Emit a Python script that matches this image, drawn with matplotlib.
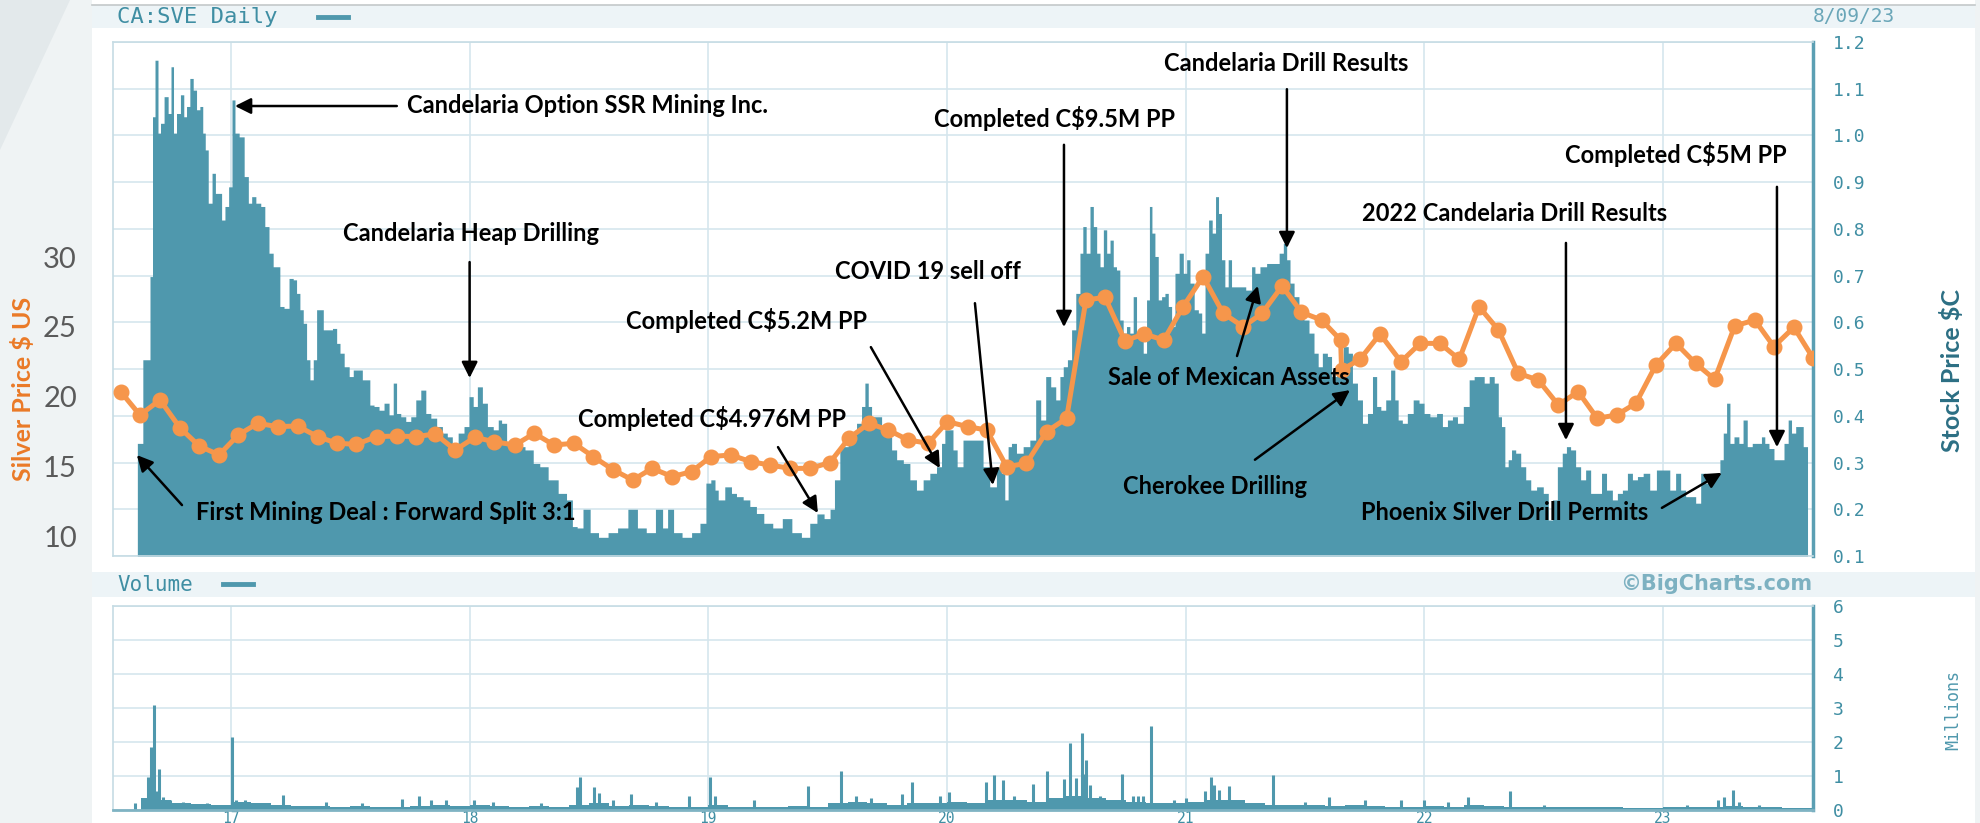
import numpy as np
import pandas as pd
import matplotlib
matplotlib.use("Agg")
import matplotlib.pyplot as plt
from matplotlib.patches import Rectangle, Polygon
from matplotlib.lines import Line2D

# ---------------- data ----------------
stock_dates = [
    2016.608, 2016.654, 2016.668, 2016.675, 2016.689, 2016.700, 2016.710, 2016.730, 2016.744, 2016.754,
    2016.765, 2016.779, 2016.798, 2016.807, 2016.821, 2016.835, 2016.849, 2016.863, 2016.877, 2016.887,
    2016.898, 2016.912, 2016.930, 2016.940, 2016.954, 2016.968, 2016.982, 2016.999, 2017.010, 2017.024,
    2017.045, 2017.066, 2017.080, 2017.094, 2017.115, 2017.135, 2017.149, 2017.170, 2017.184, 2017.198,
    2017.212, 2017.233, 2017.254, 2017.268, 2017.282, 2017.296, 2017.310, 2017.324, 2017.338, 2017.352,
    2017.366, 2017.380, 2017.394, 2017.415, 2017.436, 2017.450, 2017.464, 2017.485, 2017.506, 2017.519,
    2017.540, 2017.561, 2017.575, 2017.589, 2017.610, 2017.631, 2017.652, 2017.673, 2017.687, 2017.701,
    2017.722, 2017.743, 2017.764, 2017.785, 2017.806, 2017.827, 2017.848, 2017.876, 2017.896, 2017.917,
    2017.938, 2017.966, 2017.987, 2018.008, 2018.022, 2018.043, 2018.064, 2018.085, 2018.113, 2018.127,
    2018.141, 2018.169, 2018.211, 2018.253, 2018.280, 2018.308, 2018.350, 2018.392, 2018.420, 2018.441,
    2018.460, 2018.490, 2018.520, 2018.560, 2018.600, 2018.640, 2018.686, 2018.720, 2018.760, 2018.797,
    2018.820, 2018.839, 2018.870, 2018.910, 2018.950, 2018.980, 2019.000, 2019.021, 2019.035, 2019.048,
    2019.090, 2019.104, 2019.132, 2019.160, 2019.188, 2019.215, 2019.250, 2019.290, 2019.330, 2019.370,
    2019.410, 2019.440, 2019.470, 2019.500, 2019.520, 2019.537, 2019.565, 2019.607, 2019.635, 2019.649,
    2019.663, 2019.677, 2019.691, 2019.719, 2019.733, 2019.761, 2019.775, 2019.803, 2019.831, 2019.858,
    2019.886, 2019.914, 2019.942, 2019.970, 2019.984, 2019.998, 2020.018, 2020.032, 2020.053, 2020.081,
    2020.109, 2020.137, 2020.165, 2020.193, 2020.221, 2020.235, 2020.249, 2020.263, 2020.277, 2020.305,
    2020.333, 2020.361, 2020.382, 2020.403, 2020.424, 2020.445, 2020.466, 2020.480, 2020.494, 2020.515,
    2020.529, 2020.550, 2020.564, 2020.574, 2020.592, 2020.606, 2020.620, 2020.634, 2020.648, 2020.662,
    2020.676, 2020.690, 2020.703, 2020.717, 2020.731, 2020.745, 2020.759, 2020.773, 2020.787, 2020.801,
    2020.815, 2020.829, 2020.843, 2020.853, 2020.864, 2020.878, 2020.892, 2020.906, 2020.920, 2020.934,
    2020.948, 2020.962, 2020.983, 2020.997, 2021.011, 2021.025, 2021.046, 2021.060, 2021.074, 2021.088,
    2021.104, 2021.118, 2021.132, 2021.143, 2021.157, 2021.171, 2021.185, 2021.199, 2021.234, 2021.269,
    2021.283, 2021.297, 2021.325, 2021.353, 2021.381, 2021.402, 2021.416, 2021.430, 2021.444, 2021.464,
    2021.485, 2021.506, 2021.527, 2021.548, 2021.562, 2021.583, 2021.604, 2021.618, 2021.646, 2021.674,
    2021.688, 2021.709, 2021.730, 2021.751, 2021.772, 2021.793, 2021.807, 2021.828, 2021.848, 2021.869,
    2021.883, 2021.897, 2021.918, 2021.939, 2021.967, 2021.988, 2022.009, 2022.037, 2022.065, 2022.086,
    2022.107, 2022.128, 2022.149, 2022.177, 2022.198, 2022.219, 2022.240, 2022.261, 2022.282, 2022.303,
    2022.316, 2022.330, 2022.344, 2022.358, 2022.372, 2022.393, 2022.414, 2022.435, 2022.456, 2022.484,
    2022.512, 2022.526, 2022.547, 2022.567, 2022.588, 2022.602, 2022.623, 2022.644, 2022.665, 2022.686,
    2022.707, 2022.735, 2022.749, 2022.777, 2022.798, 2022.819, 2022.840, 2022.861, 2022.882, 2022.903,
    2022.930, 2022.958, 2022.986, 2023.014, 2023.042, 2023.063, 2023.084, 2023.105, 2023.126, 2023.147,
    2023.168, 2023.189, 2023.210, 2023.231, 2023.245, 2023.259, 2023.273, 2023.287, 2023.307, 2023.328,
    2023.342, 2023.363, 2023.384, 2023.405, 2023.419, 2023.433, 2023.454, 2023.475, 2023.496, 2023.517,
    2023.531, 2023.545, 2023.566, 2023.580, 2023.594, 2023.605,
]
stock_price = [
    0.341, 0.520, 0.698, 1.040, 1.161, 1.005, 1.026, 1.083, 1.047, 1.147,
    1.005, 1.047, 1.087, 1.040, 1.062, 1.122, 1.097, 1.055, 1.062, 1.005,
    0.969, 0.855, 0.919, 0.876, 0.876, 0.819, 0.848, 0.890, 1.076, 1.005,
    0.997, 0.912, 0.855, 0.869, 0.855, 0.848, 0.805, 0.748, 0.719, 0.719,
    0.634, 0.630, 0.694, 0.691, 0.662, 0.627, 0.598, 0.520, 0.477, 0.520,
    0.627, 0.627, 0.584, 0.584, 0.587, 0.555, 0.534, 0.505, 0.484, 0.498,
    0.498, 0.477, 0.477, 0.423, 0.420, 0.412, 0.427, 0.402, 0.470, 0.405,
    0.398, 0.388, 0.398, 0.434, 0.455, 0.405, 0.395, 0.377, 0.363, 0.355,
    0.341, 0.363, 0.377, 0.441, 0.420, 0.462, 0.427, 0.377, 0.370, 0.391,
    0.384, 0.341, 0.334, 0.327, 0.298, 0.291, 0.263, 0.234, 0.220, 0.163,
    0.160, 0.200, 0.150, 0.140, 0.150, 0.160, 0.200, 0.160, 0.150, 0.200,
    0.160, 0.200, 0.150, 0.140, 0.150, 0.170, 0.256, 0.263, 0.241, 0.220,
    0.248, 0.234, 0.227, 0.220, 0.206, 0.191, 0.170, 0.160, 0.180, 0.150,
    0.140, 0.170, 0.190, 0.180, 0.200, 0.263, 0.334, 0.363, 0.384, 0.420,
    0.470, 0.420, 0.398, 0.398, 0.377, 0.355, 0.327, 0.306, 0.298, 0.263,
    0.241, 0.263, 0.277, 0.291, 0.341, 0.370, 0.370, 0.327, 0.291, 0.348,
    0.348, 0.348, 0.291, 0.248, 0.291, 0.277, 0.220, 0.334, 0.341, 0.320,
    0.334, 0.348, 0.434, 0.391, 0.484, 0.462, 0.434, 0.484, 0.505, 0.520,
    0.584, 0.662, 0.748, 0.805, 0.748, 0.848, 0.805, 0.748, 0.719, 0.798,
    0.748, 0.776, 0.719, 0.712, 0.605, 0.577, 0.591, 0.577, 0.655, 0.577,
    0.577, 0.534, 0.648, 0.848, 0.791, 0.741, 0.648, 0.655, 0.662, 0.634,
    0.591, 0.705, 0.748, 0.705, 0.734, 0.684, 0.627, 0.620, 0.577, 0.748,
    0.819, 0.791, 0.869, 0.833, 0.734, 0.676, 0.734, 0.676, 0.676, 0.669,
    0.719, 0.705, 0.719, 0.726, 0.726, 0.748, 0.769, 0.734, 0.684, 0.655,
    0.620, 0.605, 0.577, 0.534, 0.505, 0.534, 0.527, 0.484, 0.505, 0.548,
    0.534, 0.470, 0.434, 0.384, 0.405, 0.484, 0.420, 0.412, 0.434, 0.498,
    0.434, 0.391, 0.384, 0.405, 0.434, 0.427, 0.405, 0.398, 0.405, 0.377,
    0.391, 0.398, 0.384, 0.420, 0.477, 0.484, 0.484, 0.470, 0.484, 0.470,
    0.398, 0.377, 0.291, 0.306, 0.327, 0.320, 0.291, 0.263, 0.241, 0.248,
    0.234, 0.177, 0.220, 0.291, 0.320, 0.334, 0.327, 0.291, 0.263, 0.284,
    0.234, 0.234, 0.277, 0.241, 0.220, 0.234, 0.241, 0.277, 0.263, 0.270,
    0.277, 0.241, 0.284, 0.284, 0.241, 0.277, 0.241, 0.227, 0.227, 0.213,
    0.277, 0.256, 0.270, 0.277, 0.306, 0.363, 0.427, 0.341, 0.355, 0.341,
    0.391, 0.334, 0.341, 0.341, 0.355, 0.341, 0.330, 0.306, 0.306, 0.341,
    0.391, 0.363, 0.377, 0.377, 0.334, 0.334,
]

silver_dates = [
    2016.538, 2016.619, 2016.703, 2016.786, 2016.867, 2016.950, 2017.031, 2017.112, 2017.196, 2017.279,
    2017.363, 2017.445, 2017.526, 2017.610, 2017.694, 2017.775, 2017.856, 2017.940, 2018.022, 2018.103,
    2018.190, 2018.271, 2018.353, 2018.437, 2018.518, 2018.602, 2018.683, 2018.765, 2018.849, 2018.930,
    2019.011, 2019.095, 2019.177, 2019.258, 2019.342, 2019.426, 2019.509, 2019.589, 2019.673, 2019.754,
    2019.837, 2019.921, 2020.002, 2020.086, 2020.166, 2020.250, 2020.333, 2020.417, 2020.501, 2020.582,
    2020.662, 2020.745, 2020.826, 2020.908, 2020.989, 2021.073, 2021.157, 2021.241, 2021.320, 2021.404,
    2021.485, 2021.569, 2021.649, 2021.653, 2021.730, 2021.814, 2021.902, 2021.982, 2022.065, 2022.146,
    2022.229, 2022.310, 2022.393, 2022.477, 2022.561, 2022.644, 2022.724, 2022.805, 2022.886, 2022.970,
    2023.054, 2023.136, 2023.216, 2023.300, 2023.384, 2023.464, 2023.548, 2023.629,
]
silver_price = [
    20.38, 18.71, 19.79, 17.81, 16.50, 15.86, 17.29, 18.12, 17.88, 17.93,
    17.17, 16.69, 16.62, 17.17, 17.21, 17.17, 17.36, 16.21, 17.12, 16.80,
    16.57, 17.40, 16.57, 16.69, 15.74, 14.79, 14.07, 14.90, 14.31, 14.67,
    15.74, 15.86, 15.38, 15.14, 14.90, 14.90, 15.31, 17.05, 18.12, 17.64,
    16.93, 16.69, 18.24, 17.88, 17.64, 15.02, 15.26, 17.52, 18.48, 26.93,
    27.12, 24.02, 24.50, 24.07, 26.45, 28.60, 25.98, 25.02, 25.98, 27.93,
    26.05, 25.50, 24.07, 21.93, 22.69, 24.50, 22.52, 23.83, 23.83, 22.69,
    26.45, 24.79, 21.69, 21.21, 19.43, 20.38, 18.48, 18.71, 19.55, 22.29,
    23.83, 22.40, 21.26, 25.07, 25.50, 23.60, 24.98, 22.76,
]

# monthly base volume (millions), Aug 2016 .. Aug 2023
vol_months = pd.period_range("2016-08", "2023-08", freq="M")
vol_base = [
    0.35, 0.30, 0.20, 0.18, 0.15,
    0.25, 0.20, 0.15, 0.12, 0.12, 0.10, 0.12, 0.10, 0.10, 0.12, 0.15, 0.12,
    0.15, 0.12, 0.10, 0.12, 0.10, 0.15, 0.20, 0.12, 0.15, 0.12, 0.10, 0.10,
    0.15, 0.10, 0.08, 0.10, 0.12, 0.10, 0.20, 0.25, 0.20, 0.15, 0.20, 0.20,
    0.25, 0.20, 0.30, 0.30, 0.25, 0.35, 0.40, 0.35, 0.30, 0.25, 0.20, 0.20,
    0.25, 0.30, 0.30, 0.20, 0.15, 0.15, 0.15, 0.12, 0.15, 0.12, 0.10, 0.10,
    0.12, 0.10, 0.15, 0.12, 0.10, 0.10, 0.08, 0.08, 0.08, 0.08, 0.06, 0.06,
    0.08, 0.08, 0.10, 0.12, 0.10, 0.08, 0.06, 0.05,
]
spike_dates = [
    2016.598, 2016.652, 2016.664, 2016.676, 2016.688, 2016.700, 2016.715, 2016.745, 2016.800, 2016.900,
    2017.004, 2017.020, 2017.060, 2017.220, 2017.400, 2017.550, 2017.716, 2017.790, 2017.840, 2017.900,
    2018.020, 2018.100, 2018.300, 2018.450, 2018.464, 2018.520, 2018.540, 2018.600, 2018.675, 2018.780,
    2018.920, 2019.006, 2019.030, 2019.190, 2019.419, 2019.554, 2019.620, 2019.680, 2019.810, 2019.853,
    2019.970, 2020.010, 2020.162, 2020.196, 2020.236, 2020.280, 2020.360, 2020.417, 2020.490, 2020.517,
    2020.540, 2020.564, 2020.572, 2020.583, 2020.600, 2020.640, 2020.732, 2020.780, 2020.800, 2020.820,
    2020.854, 2020.950, 2021.000, 2021.080, 2021.106, 2021.120, 2021.140, 2021.180, 2021.230, 2021.364,
    2021.500, 2021.600, 2021.750, 2021.900, 2022.000, 2022.100, 2022.184, 2022.358, 2022.500, 2023.100,
    2023.230, 2023.255, 2023.294, 2023.320, 2023.400,
]
spike_vol = [
    0.20, 0.96, 1.85, 3.08, 0.57, 1.21, 0.39, 0.30, 0.25, 0.20,
    2.14, 0.30, 0.30, 0.44, 0.25, 0.22, 0.32, 0.42, 0.30, 0.30,
    0.30, 0.25, 0.22, 0.67, 0.96, 0.67, 0.50, 0.30, 0.47, 0.25,
    0.42, 0.96, 0.42, 0.28, 0.72, 1.16, 0.42, 0.35, 0.47, 0.82,
    0.42, 0.52, 0.82, 1.04, 0.87, 0.40, 0.77, 1.16, 0.91, 1.97,
    0.95, 2.26, 1.06, 1.47, 0.75, 0.42, 1.06, 0.40, 0.40, 0.40,
    2.46, 0.30, 0.35, 0.55, 0.98, 0.75, 0.60, 0.72, 0.30, 1.04,
    0.25, 0.37, 0.30, 0.28, 0.30, 0.25, 0.37, 0.57, 0.15, 0.15,
    0.30, 0.37, 0.59, 0.25, 0.15,
]

year_ticks = [2017, 2018, 2019, 2020, 2021, 2022, 2023]
year_labels = ["17", "18", "19", "20", "21", "22", "23"]
stock_ticks = [0.1, 0.2, 0.3, 0.4, 0.5, 0.6, 0.7, 0.8, 0.9, 1.0, 1.1, 1.2]
silver_ticks = [10, 15, 20, 25, 30]
vol_ticks = [0, 1, 2, 3, 4, 5, 6]

ann_labels = [
    "Candelaria Option SSR Mining Inc.", "Candelaria Heap Drilling",
    "First Mining Deal : Forward Split 3:1", "Completed C$4.976M PP",
    "Completed C$5.2M PP", "COVID 19 sell off", "Completed C$9.5M PP",
    "Candelaria Drill Results", "Sale of Mexican Assets", "Cherokee Drilling",
    "2022 Candelaria Drill Results", "Completed C$5M PP", "Phoenix Silver Drill Permits",
]
ann_text_xy = [
    (2018.494, 1.065), (2018.005, 0.791), (2017.647, 0.194), (2019.015, 0.395),
    (2019.162, 0.605), (2019.920, 0.708), (2020.452, 1.037), (2021.420, 1.155),
    (2021.181, 0.483), (2021.122, 0.248), (2022.379, 0.834), (2023.054, 0.960),
    (2022.337, 0.194),
]
ann_tail = [
    (2017.695, 1.063), (2018.000, 0.729), (2016.795, 0.209), (2019.292, 0.333),
    (2019.681, 0.547), (2020.117, 0.641), (2020.490, 0.980), (2021.424, 1.099),
    (2021.215, 0.528), (2021.290, 0.306), (2022.593, 0.770), (2023.477, 0.890),
    (2022.995, 0.203),
]
ann_tip = [
    (2017.017, 1.063), (2018.000, 0.481), (2016.606, 0.316), (2019.459, 0.192),
    (2019.970, 0.288), (2020.192, 0.252), (2020.490, 0.590), (2021.424, 0.759),
    (2021.302, 0.678), (2021.688, 0.455), (2022.593, 0.348), (2023.477, 0.333),
    (2023.246, 0.278),
]

# ---------------- style ----------------
W, H = 1981, 823
TEAL = "#4f98ad"
TEAL_TXT = "#3f8ea3"
GRID = "#d5e6ed"
FRAME = "#c6dce4"
ORANGE = "#f6964b"
MONO = "DejaVu Sans Mono"

def fx(px):
    return px / W

def fy(py):
    return 1 - py / H

fig = plt.figure(figsize=(W / 100, H / 100), dpi=100)
fig.patch.set_facecolor("#eff3f4")

# background panels
fig.add_artist(Rectangle((fx(92), 0), fx(1975) - fx(92), 1, transform=fig.transFigure,
                         facecolor="white", edgecolor="none", zorder=-3))
fig.add_artist(Polygon([(0, 1), (fx(70), 1), (0, fy(150))], closed=True, transform=fig.transFigure,
                       facecolor="#e3e9eb", edgecolor="none", zorder=-3))
for top, bot in [(5, 28), (572, 597)]:
    fig.add_artist(Rectangle((fx(92), fy(bot)), fx(1975) - fx(92), (bot - top) / H,
                             transform=fig.transFigure, facecolor="#edf4f7",
                             edgecolor="none", zorder=-2))
fig.add_artist(Line2D([fx(92), fx(1975)], [fy(5), fy(5)], transform=fig.transFigure,
                      color="#c3c8ca", lw=1.2, zorder=-1))

# ---------------- price panel ----------------
ax = fig.add_axes([fx(113), fy(556), fx(1813) - fx(113), (556 - 42) / H])
axs = ax.twinx()   # silver price axis (drawn on top)

ax.set_xlim(2016.506, 2023.628)
ax.set_ylim(0.1, 1.2)
ax.fill_between(stock_dates, stock_price, 0, step="mid", color=TEAL, lw=0, zorder=2)
ax.yaxis.tick_right()
ax.set_yticks(stock_ticks)
ax.set_yticklabels([f"{t:.1f}" for t in stock_ticks])
ax.set_xticks(year_ticks)
ax.set_xticklabels([])
ax.grid(True, color=GRID, lw=1.2)
ax.set_axisbelow(True)
ax.tick_params(axis="y", which="both", left=False, labelleft=False, right=False,
               labelright=True, length=0, pad=14, labelsize=13, labelcolor=TEAL_TXT,
               labelfontfamily=MONO)
ax.tick_params(axis="x", length=0)
for s in ["left", "top", "bottom"]:
    ax.spines[s].set_color(FRAME)
    ax.spines[s].set_linewidth(1.2)
ax.spines["right"].set_color("#5b9fb3")
ax.spines["right"].set_linewidth(2.5)

axs.set_xlim(2016.506, 2023.628)
axs.set_ylim(8.64, 45.36)
axs.yaxis.tick_left()
axs.set_yticks(silver_ticks)
axs.set_yticklabels([str(t) for t in silver_ticks])
axs.tick_params(axis="y", which="both", right=False, labelright=False, left=False,
                labelleft=True, length=0, pad=26, labelsize=21, labelcolor="#5a5a5a",
                labelfontfamily="Lato")
for s in axs.spines.values():
    s.set_visible(False)
axs.plot(silver_dates, silver_price, color=ORANGE, lw=3.6, marker="o", ms=10.5,
         solid_joinstyle="round", zorder=3)

# annotations
for lab, txy, tail, tip in zip(ann_labels, ann_text_xy, ann_tail, ann_tip):
    axs.text(txy[0], txy[1], lab, transform=ax.transData, ha="center", va="center",
             fontsize=17, fontweight="bold", family="Lato", color="black", zorder=10)
    axs.annotate("", xy=tip, xytext=tail, xycoords=ax.transData, textcoords=ax.transData,
                 arrowprops=dict(arrowstyle="-|>", color="black", lw=1.8,
                                 mutation_scale=24, shrinkA=0, shrinkB=0), zorder=10)

# ---------------- volume panel ----------------
axv = fig.add_axes([fx(113), fy(810), fx(1813) - fx(113), (810 - 606) / H])
axv.set_xlim(2016.506, 2023.628)
axv.set_ylim(0, 6)
vol_dates = vol_months.year + (vol_months.month - 0.5) / 12
axv.fill_between(vol_dates, vol_base, 0, step="mid", color=TEAL, lw=0, zorder=2)
axv.vlines(spike_dates, 0, spike_vol, color=TEAL, lw=2.2, zorder=2)
axv.yaxis.tick_right()
axv.set_yticks(vol_ticks)
axv.set_yticklabels([str(t) for t in vol_ticks])
axv.set_xticks(year_ticks)
axv.set_xticklabels(year_labels)
axv.grid(True, color=GRID, lw=1.2)
axv.set_axisbelow(True)
axv.tick_params(axis="y", length=0, pad=14, labelsize=13, labelcolor=TEAL_TXT,
                labelfontfamily=MONO)
axv.tick_params(axis="x", length=0, pad=0.5, labelsize=10.5, labelcolor=TEAL_TXT,
                labelfontfamily=MONO)
for s in ["left", "top"]:
    axv.spines[s].set_color(FRAME)
    axv.spines[s].set_linewidth(1.2)
axv.spines["bottom"].set_color("#7fb3c3")
axv.spines["bottom"].set_linewidth(2)
axv.spines["right"].set_color("#5b9fb3")
axv.spines["right"].set_linewidth(2.5)

# ---------------- texts ----------------
fig.text(fx(117), fy(17), "CA:SVE Daily", family=MONO, fontsize=16, color=TEAL_TXT,
         va="center", ha="left")
fig.add_artist(Line2D([fx(318), fx(348)], [fy(17), fy(17)], transform=fig.transFigure,
                      color=TEAL, lw=3.5))
fig.text(fx(1813), fy(17), "8/09/23", family=MONO, fontsize=14, color="#6aa6b8",
         va="center", ha="left")
fig.text(fx(117), fy(585), "Volume", family=MONO, fontsize=15, color=TEAL_TXT,
         va="center", ha="left")
fig.add_artist(Line2D([fx(223), fx(253)], [fy(584), fy(584)], transform=fig.transFigure,
                      color=TEAL, lw=3.5))
fig.text(fx(1812), fy(584), "\u00a9BigCharts.com", family="DejaVu Sans", fontweight="bold",
         fontsize=15, color="#7db1c1", va="center", ha="right")
fig.text(fx(1953), fy(710), "Millions", family=MONO, fontsize=12, color=TEAL,
         rotation=90, va="center", ha="center")
fig.text(fx(23), fy(389), "Silver Price $ US", family="Lato", fontweight="bold",
         fontsize=18, color="#ea7a27", rotation=90, va="center", ha="center")
fig.text(fx(1952), fy(371), "Stock Price $C", family="Lato", fontweight="bold",
         fontsize=18, color="#2c6f84", rotation=90, va="center", ha="center")

fig.savefig("out.png", dpi=100)
